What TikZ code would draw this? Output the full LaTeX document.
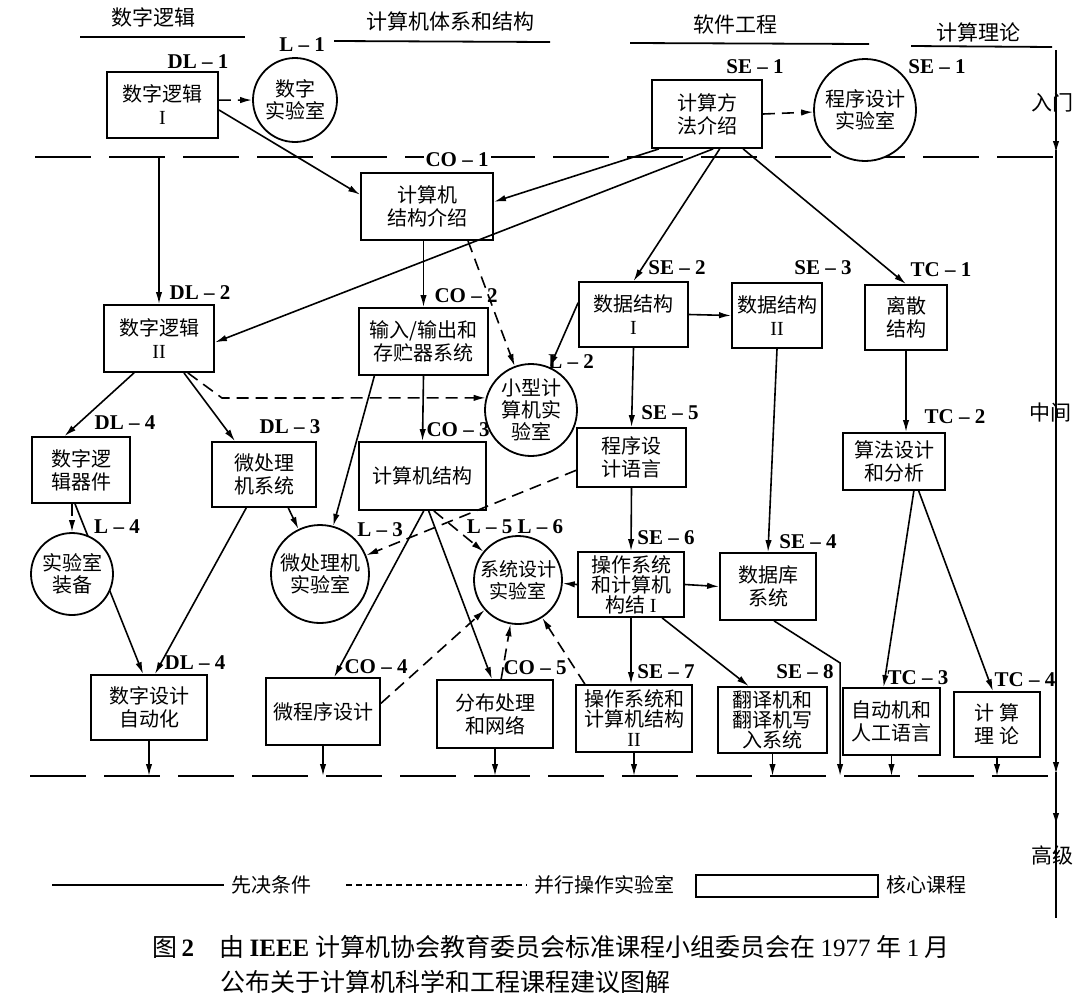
\documentclass[tikz,border=0pt]{standalone}
\usepackage{fontspec}
\setmainfont{Liberation Serif}
\newfontfamily\cjk{Noto Sans CJK SC}
\usetikzlibrary{arrows.meta,backgrounds}
\newcommand{\rn}[1]{{\rmfamily #1}}

\begin{document}
\begin{tikzpicture}[x=0.5pt,y=-0.5pt,
  course/.style={draw,line width=0.9pt,fill=white,align=center,inner sep=1pt,font={\cjk\fontsize{10}{11.5}\selectfont}},
  labroom/.style={draw,circle,line width=0.9pt,fill=white,align=center,inner sep=0pt,font={\cjk\fontsize{10}{11}\selectfont}},
  tag/.style={font={\bfseries\fontsize{10.5}{12}\selectfont},inner sep=1pt},
  colhead/.style={font={\cjk\fontsize{10.5}{12}\selectfont}},
  req/.style={line width=0.8pt,-{Latex[length=6pt,width=3.2pt]}},
  conc/.style={req,dash pattern=on 6pt off 3.5pt},
  tier/.style={line width=0.9pt,dash pattern=on 28pt off 9pt}]
\useasboundingbox (0,0) rectangle (1080,1002);

% column heads
\node[colhead] (hdl) at (153,17) {数字逻辑};
\node[colhead] (hco) at (450,21) {计算机体系和结构};
\node[colhead] (hse) at (735,25) {软件工程};
\node[colhead] (htc) at (978,32) {计算理论};
\draw[line width=0.9pt] (80,37) -- (245,37);
\draw[line width=0.9pt] (334,41) -- (550,42);
\draw[line width=0.9pt] (630,43) -- (869,44);
\draw[line width=0.9pt] (911,46) -- (1052,47);

% levels
\coordinate (top) at (0,157);
\coordinate (bot) at (0,776);
\node[colhead] (lv1) at (1052,103) {入门};
\node[colhead] (lv2) at (1050,413) {中间};
\node[colhead] (lv3) at (1052,855) {高级};

% courses and labs
\node[course,minimum width=55.5pt,minimum height=33pt] (dl1) at (162.5,105) {数字逻辑\\\rn{I}};
\node[labroom,minimum size=42pt] (l1) at (295,100) {数字\\实验室};
\node[course,minimum width=55pt,minimum height=34pt] (se1) at (707,114) {计算方\\法介绍};
\node[labroom,minimum size=51pt] (sel) at (865,110) {程序设计\\实验室};
\node[course,minimum width=66pt,minimum height=33.5pt] (co1) at (427,206.5) {计算机\\结构介绍};

\node[course,minimum width=55pt,minimum height=33.5pt] (dl2) at (159,338.5) {数字逻辑\\\rn{II}};
\node[course,minimum width=64.5pt,minimum height=33.5pt] (co2) at (423.5,341.5) {输入/输出和\\存贮器系统};
\node[course,minimum width=54.5pt,minimum height=32.5pt] (se2) at (633.5,314.5) {数据结构\\\rn{I}};
\node[course,minimum width=45pt,minimum height=32.5pt] (se3) at (777,315.5) {数据结构\\\rn{II}};
\node[course,minimum width=41pt,minimum height=32.5pt] (tc1) at (906,317.5) {离散\\结构};
\node[labroom,minimum size=46pt] (l2) at (531,410) {小型计\\算机实\\验室};

\node[course,minimum width=49pt,minimum height=33pt] (dl4) at (81,470) {数字逻\\辑器件};
\node[course,minimum width=52pt,minimum height=32.5pt] (dl3) at (264,474.5) {微处理\\机系统};
\node[course,minimum width=63.5pt,minimum height=34pt] (co3) at (422.5,476) {计算机结构};
\node[course,minimum width=54.5pt,minimum height=29.5pt] (se5) at (631.5,457.5) {程序设\\计语言};
\node[course,minimum width=51pt,minimum height=28.5pt] (tc2) at (894,461.5) {算法设计\\和分析};

\node[labroom,minimum size=41pt] (l4) at (72,574) {实验室\\装备};
\node[labroom,minimum size=49pt] (l3) at (320,574) {微处理机\\实验室};
\node[labroom,minimum size=44pt,font={\cjk\fontsize{9.5}{11}\selectfont}] (l5) at (518,580) {系统设计\\实验室};
\node[course,minimum width=53pt,minimum height=32.5pt,font={\cjk\fontsize{10}{10}\selectfont}] (se6) at (631,584.5) {操作系统\\和计算机\\构结 \rn{I}};
\node[course,minimum width=48pt,minimum height=33.5pt] (se4) at (768,586.5) {数据库\\系统};

\node[course,minimum width=58pt,minimum height=32.5pt] (dl5) at (149,707.5) {数字设计\\自动化};
\node[course,minimum width=57pt,minimum height=33.5pt] (co4) at (323,711.5) {微程序设计};
\node[course,minimum width=58pt,minimum height=34pt] (co5) at (495,714) {分布处理\\和网络};
\node[course,minimum width=58pt,minimum height=33.5pt,font={\cjk\fontsize{10}{10}\selectfont}] (se7) at (634,718.5) {操作系统和\\计算机结构\\\rn{II}};
\node[course,minimum width=54.5pt,minimum height=33pt,font={\cjk\fontsize{10}{10}\selectfont}] (se8) at (772.5,720) {翻译机和\\翻译机写\\入系统};
\node[course,minimum width=48.5pt,minimum height=33.5pt] (tc3) at (891.5,721.5) {自动机和\\人工语言};
\node[course,minimum width=43pt,minimum height=32.5pt] (tc4) at (997,724.5) {计 算\\理 论};

% course numbers
\node[tag] (tdl1) at (198,62) {DL -- 1};
\node[tag] (tl1) at (302,45) {L -- 1};
\node[tag] (tse1) at (755,67) {SE -- 1};
\node[tag] (tsel) at (937,67) {SE -- 1};
\node[tag,fill=white] (tco1) at (457,160) {CO -- 1};
\node[tag] (tdl2) at (200,293) {DL -- 2};
\node[tag] (tco2) at (466,296) {CO -- 2};
\node[tag] (tse2) at (677,268) {SE -- 2};
\node[tag] (tse3) at (823,268) {SE -- 3};
\node[tag] (ttc1) at (941,270) {TC -- 1};
\node[tag] (tl2) at (571,362) {L -- 2};
\node[tag] (tdl4) at (125,423) {DL -- 4};
\node[tag] (tdl3) at (290,427) {DL -- 3};
\node[tag] (tco3) at (458,430) {CO -- 3};
\node[tag] (tse5) at (670,413) {SE -- 5};
\node[tag] (ttc2) at (955,417) {TC -- 2};
\node[tag] (tl4) at (117,527) {L -- 4};
\node[tag] (tl3) at (380,530) {L -- 3};
\node[tag] (tl5) at (515,527) {L -- 5 L -- 6};
\node[tag] (tse6) at (666,538) {SE -- 6};
\node[tag] (tse4) at (808,542) {SE -- 4};
\node[tag] (tdl5) at (195,663) {DL -- 4};
\node[tag] (tco4) at (376,667) {CO -- 4};
\node[tag] (tco5) at (535,668) {CO -- 5};
\node[tag] (tse7) at (666,672) {SE -- 7};
\node[tag] (tse8) at (805,672) {SE -- 8};
\node[tag] (ttc3) at (918,678) {TC -- 3};
\node[tag] (ttc4) at (1025,680) {TC -- 4};

\begin{scope}[on background layer]
\draw[tier] (35,157) -- (1056,157);
\draw[tier] (30,776) -- (1056,776);
\draw[req] (dl4.260) -- (dl5.100);
\end{scope}
\draw[req] (1056,50) -- (1056,153);
\draw[req] (1056,150) -- (1056,774);
\draw[req] (1056,772) -- (1056,825);
\draw[line width=0.8pt] (1056,820) -- (1056,918);

% prerequisites and labs
\draw[conc] (dl1.5) -- (l1);
\draw[req] (dl1.-5) -- (co1.170);
\draw[req] (dl2.north |- top) -- (dl2.north);
\draw[conc] (se1.east) -- (sel);
\draw[req] (se1.216) -- (co1.4);
\draw[req] (se1.-80) -- (dl2.-4);
\draw[req] (se1.-70) -- (se2.north);
\draw[req] (se1.-44) -- (tc1.north);
\draw[req] (co2.north |- co1.south) -- (co2.north);
\draw[conc] (co1.-40) -- (l2);
\draw[req] (se2.168) -- (l2);
\draw[req] (se2.east) -- (se3.west);
\draw[req] (se2.south) -- (se5.north);
\draw[req] (se3.south) -- (se4.north);
\draw[req] (tc1.south) -- (tc1.south |- tc2.north);
\draw[req] (dl2.234) -- (dl4.116);
\draw[req] (dl2.-54) -- (dl3.131);
\draw[conc] (dl2.-50) -- (222,398) -- (l2.165);
\draw[req] (co2.south) -- (co3.north);
\draw[req] (co2.215) -- (l3);
\draw[conc] (l4.north |- dl4.south) -- (l4.north);
\draw[req] (dl3.242) -- (dl5.80);
\draw[conc] (dl3.-54) -- (l3);
\draw[conc] (se5.193) -- (l3);
\draw[req] (co3.-88) -- (co4.72);
\draw[req] (co3.-80) -- (co5.95);
\draw[conc] (co3.-72) -- (l5);
\draw[conc] (co4.8) -- (l5);
\draw[conc] (co5.80) -- (l5);
\draw[conc] (se7.145) -- (l5);
\draw[req] (se6.west) -- (l5);
\draw[req] (se5.south) -- (se6.north);
\draw[req] (se6.east) -- (se4.west);
\draw[req] (se6.south) -- (se6.south |- se7.north);
\draw[req] (se6.-47) -- (se8.125);
\draw[req] (se4.-80) -- ++(66,42) coordinate (sk) -- (sk |- bot);
\draw[req] (tc2.-56) -- (tc3.103);
\draw[req] (tc2.-50) -- (tc4.97);
\foreach \n in {dl5,co4,co5,se7,se8,tc3,tc4}
  \draw[req] (\n.south) -- (\n.south |- bot);

% key
\node[colhead,font={\cjk\fontsize{10}{12}\selectfont}] (k1) at (271,885) {先决条件};
\node[colhead,font={\cjk\fontsize{10}{12}\selectfont}] (k2) at (604,885) {并行操作实验室};
\node[course,minimum width=91pt,minimum height=11pt] (k3) at (787,886) {};
\node[colhead,font={\cjk\fontsize{10}{12}\selectfont}] (k4) at (926,885) {核心课程};
\draw[line width=0.8pt] (52,885) -- (k1.west);
\draw[line width=0.8pt,dash pattern=on 3pt off 2pt] ([xshift=14pt]k1.east) -- (k2.west);

% caption
\node[anchor=west,inner sep=0pt,font={\cjk\fontsize{12.5}{15}\selectfont}] (cap1) at (152,947)
  {图\,\rn{\bfseries 2}\quad 由 \rn{\bfseries IEEE} 计算机协会教育委员会标准课程小组委员会在 \rn{1977} 年 \rn{1} 月};
\node[anchor=west,inner sep=0pt,font={\cjk\fontsize{12.5}{15}\selectfont}] (cap2) at (220,982)
  {公布关于计算机科学和工程课程建议图解};
\end{tikzpicture}
\end{document}
